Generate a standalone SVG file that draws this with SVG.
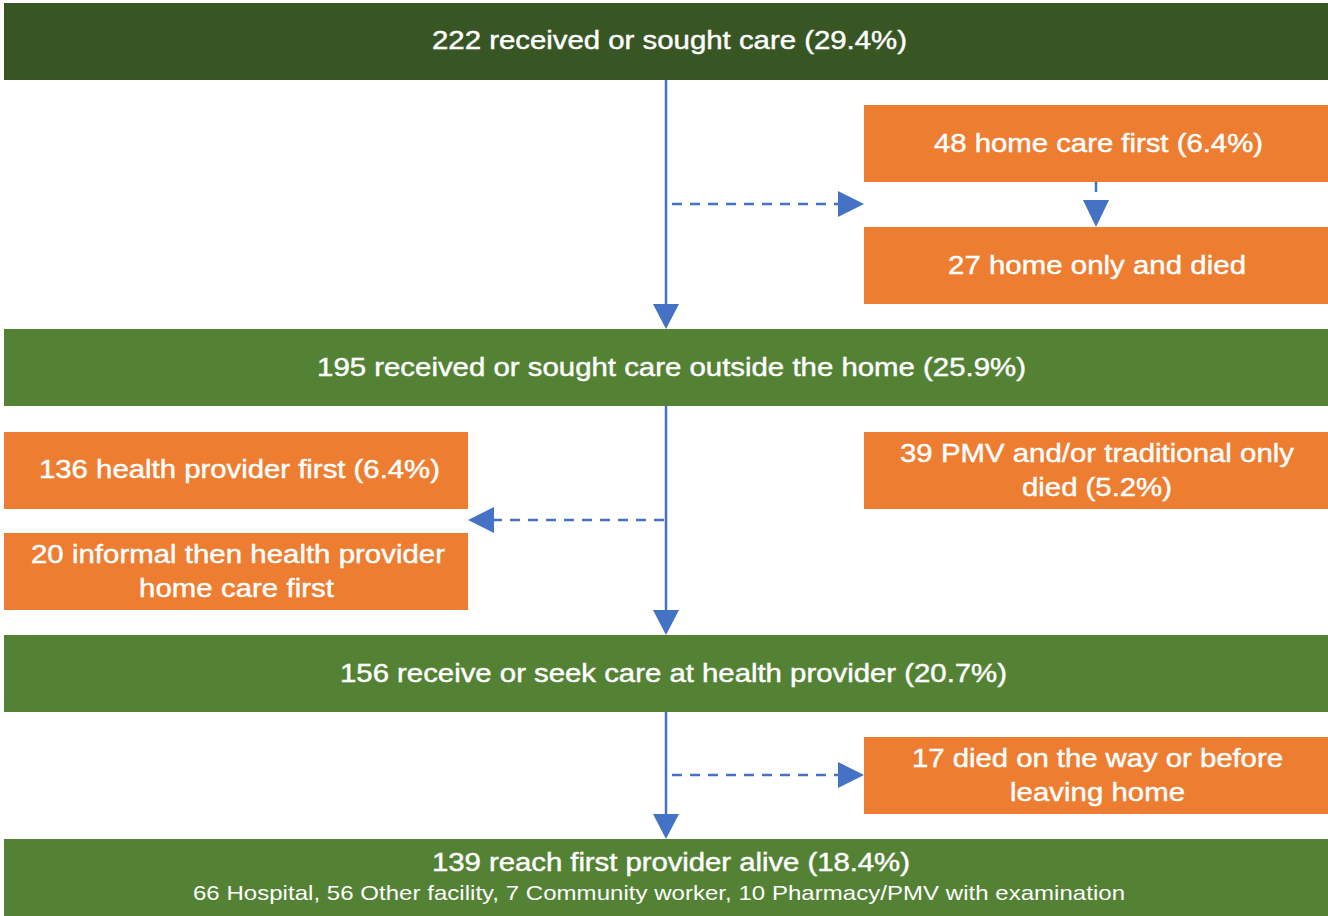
<svg xmlns="http://www.w3.org/2000/svg" width="1328" height="916" viewBox="0 0 1328 916">
  <defs>
    <style>
      .dark { fill: #375623; }
      .green { fill: #548235; }
      .orange { fill: #ED7D31; }
      text { font-family: "Liberation Sans", Arial, sans-serif; fill: #ffffff; stroke: #ffffff; stroke-width: 0.45; text-anchor: middle; }
      .t { font-size: 26px; }
      .s { font-size: 20px; stroke: none; }
      .solid { stroke: #4472C4; stroke-width: 2.5; fill: none; }
      .dash { stroke: #4472C4; stroke-width: 2.5; fill: none; stroke-dasharray: 10 8; }
      .head { fill: #4472C4; }
    </style>
  </defs>
  <rect width="1328" height="916" fill="#ffffff"/>

  <g id="connectors">
    <!-- main spine -->
    <line class="solid" x1="666" y1="80" x2="666" y2="305"/>
    <polygon class="head" points="653,304 679,304 666,329"/>
    <line class="solid" x1="666" y1="406" x2="666" y2="611"/>
    <polygon class="head" points="653,610 679,610 666,635"/>
    <line class="solid" x1="666" y1="712" x2="666" y2="815"/>
    <polygon class="head" points="653,814 679,814 666,839"/>
    <!-- side branches -->
    <line class="dash" x1="672" y1="204" x2="838" y2="204"/>
    <polygon class="head" points="838,191 838,217 864,204"/>
    <line class="dash" x1="1096" y1="182" x2="1096" y2="200"/>
    <polygon class="head" points="1083,200 1109,200 1096,227"/>
    <line class="dash" x1="664" y1="520" x2="494" y2="520"/>
    <polygon class="head" points="494,507 494,533 468,520"/>
    <line class="dash" x1="672" y1="775" x2="838" y2="775"/>
    <polygon class="head" points="838,762 838,788 864,775"/>
  </g>

  <!-- labels are set in a horizontally widened sans (x-scale 1.13, subtitle 1.2) -->
  <g id="n-sought">
    <rect class="dark" x="4" y="3" width="1324" height="77"/>
    <text class="t" transform="matrix(1.13 0 0 1 669.5 49)" textLength="420.4">222 received or sought care (29.4%)</text>
  </g>
  <g id="n-homefirst">
    <rect class="orange" x="864" y="105" width="464" height="77"/>
    <text class="t" transform="matrix(1.13 0 0 1 1098.5 152)" textLength="291.2">48 home care first (6.4%)</text>
  </g>
  <g id="n-homedied">
    <rect class="orange" x="864" y="227" width="464" height="77"/>
    <text class="t" transform="matrix(1.13 0 0 1 1097 274)" textLength="263.7">27 home only and died</text>
  </g>
  <g id="n-outside">
    <rect class="green" x="4" y="329" width="1324" height="77"/>
    <text class="t" transform="matrix(1.13 0 0 1 671.5 376)" textLength="627.4">195 received or sought care outside the home (25.9%)</text>
  </g>
  <g id="n-provider-first">
    <rect class="orange" x="4" y="432" width="464" height="77"/>
    <text class="t" transform="matrix(1.13 0 0 1 239.5 478)" textLength="354.9">136 health provider first (6.4%)</text>
  </g>
  <g id="n-informal">
    <rect class="orange" x="4" y="533" width="464" height="77"/>
    <text class="t" transform="matrix(1.13 0 0 1 238 563)" textLength="366.4">20 informal then health provider</text>
    <text class="t" transform="matrix(1.13 0 0 1 236.5 597)" textLength="172.6">home care first</text>
  </g>
  <g id="n-pmv">
    <rect class="orange" x="864" y="432" width="464" height="77"/>
    <text class="t" transform="matrix(1.13 0 0 1 1097 462)" textLength="348.7">39 PMV and/or traditional only</text>
    <text class="t" transform="matrix(1.13 0 0 1 1097 496)" textLength="132.7">died (5.2%)</text>
  </g>
  <g id="n-health">
    <rect class="green" x="4" y="635" width="1324" height="77"/>
    <text class="t" transform="matrix(1.13 0 0 1 673.5 682)" textLength="590.3">156 receive or seek care at health provider (20.7%)</text>
  </g>
  <g id="n-way">
    <rect class="orange" x="864" y="737" width="464" height="77"/>
    <text class="t" transform="matrix(1.13 0 0 1 1097.5 767)" textLength="328.3">17 died on the way or before</text>
    <text class="t" transform="matrix(1.13 0 0 1 1097.5 801)" textLength="154.9">leaving home</text>
  </g>
  <g id="n-reach">
    <rect class="green" x="4" y="839" width="1324" height="77"/>
    <text class="t" transform="matrix(1.13 0 0 1 671 871)" textLength="423">139 reach first provider alive (18.4%)</text>
    <text class="s" transform="matrix(1.2 0 0 1 659 900)" textLength="776.7">66 Hospital, 56 Other facility, 7 Community worker, 10 Pharmacy/PMV with examination</text>
  </g>
</svg>
